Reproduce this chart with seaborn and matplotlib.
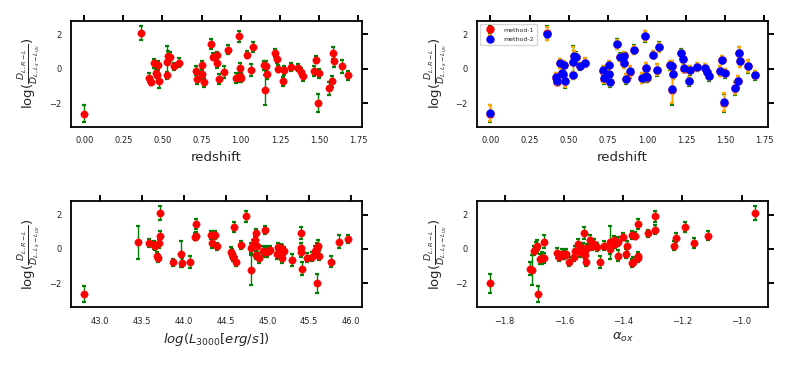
import numpy as np
import matplotlib
matplotlib.use("Agg")
import matplotlib.pyplot as plt
import seaborn as sns

# redshift panel (method-1 and method-2)
redshift = [0.00, 0.36, 0.417, 0.425, 0.445, 0.46, 0.466, 0.472, 0.476, 0.527,
            0.527, 0.536, 0.549, 0.574, 0.604, 0.717, 0.723, 0.755, 0.755, 0.766,
            0.81, 0.825, 0.85, 0.85, 0.864, 0.893, 0.92, 0.967, 0.99, 0.995,
            0.995, 1.0, 1.037, 1.067, 1.076, 1.148, 1.16, 1.157, 1.165, 1.22,
            1.231, 1.237, 1.267, 1.276, 1.318, 1.369, 1.386, 1.395, 1.465, 1.482,
            1.497, 1.495, 1.565, 1.582, 1.59, 1.594, 1.645, 1.688]
ratio_m1 = [-2.62, 2.09, -0.53, -0.76, 0.31, -0.27, -0.35, 0.19, -0.72, 0.41,
            -0.40, 0.74, 0.69, 0.14, 0.35, -0.12, -0.60, 0.19, -0.32, -0.80,
            1.42, 0.69, 0.78, 0.33, -0.60, -0.18, 1.10, -0.55, 1.89, 0.02,
            -0.45, -0.52, 0.82, -0.08, 1.27, 0.19, 0.14, -1.22, -0.33, 0.90,
            0.57, 0.00, -0.74, -0.10, 0.08, 0.04, -0.19, -0.45, -0.14, 0.53,
            -0.27, -2.00, -1.15, -0.74, 0.92, 0.42, 0.15, -0.39]
err_m1 = [0.48, 0.40, 0.25, 0.22, 0.25, 0.22, 0.20, 0.28, 0.40, 0.90,
          0.20, 0.30, 0.25, 0.20, 0.25, 0.25, 0.30, 0.28, 0.30, 0.25,
          0.28, 0.20, 0.20, 0.30, 0.30, 0.35, 0.25, 0.30, 0.32, 0.30,
          0.30, 0.25, 0.22, 0.35, 0.28, 0.25, 0.30, 0.87, 0.30, 0.22,
          0.25, 0.20, 0.25, 0.25, 0.22, 0.20, 0.25, 0.25, 0.30, 0.22,
          0.25, 0.55, 0.40, 0.30, 0.35, 0.35, 0.38, 0.25]
ratio_m2 = [-2.58, 2.03, -0.50, -0.74, 0.30, -0.26, -0.33, 0.20, -0.70, 0.40,
            -0.40, 0.72, 0.68, 0.15, 0.35, -0.10, -0.56, 0.20, -0.30, -0.78,
            1.42, 0.66, 0.76, 0.33, -0.58, -0.16, 1.10, -0.53, 1.89, 0.04,
            -0.43, -0.48, 0.82, -0.06, 1.25, 0.20, 0.14, -1.20, -0.31, 0.90,
            0.57, 0.01, -0.72, -0.09, 0.10, 0.05, -0.17, -0.43, -0.13, 0.53,
            -0.25, -1.95, -1.12, -0.72, 0.92, 0.43, 0.17, -0.38]
err_m2 = [0.45, 0.38, 0.24, 0.21, 0.24, 0.21, 0.19, 0.26, 0.38, 0.85,
          0.19, 0.28, 0.24, 0.19, 0.24, 0.24, 0.28, 0.26, 0.28, 0.24,
          0.26, 0.19, 0.19, 0.28, 0.28, 0.33, 0.24, 0.28, 0.30, 0.28,
          0.28, 0.24, 0.21, 0.33, 0.26, 0.24, 0.28, 0.82, 0.28, 0.21,
          0.24, 0.19, 0.24, 0.24, 0.21, 0.19, 0.24, 0.24, 0.28, 0.21,
          0.24, 0.52, 0.38, 0.28, 0.33, 0.33, 0.36, 0.24]

# luminosity panel
log_l3000 = [42.81, 43.45, 43.59, 43.64, 43.66, 43.70, 43.68, 43.69, 43.72, 43.72,
             43.87, 43.97, 43.98, 44.07, 44.13, 44.15, 44.15, 44.33, 44.36, 44.38,
             44.34, 44.40, 44.56, 44.58, 44.59, 44.62, 44.60, 44.69, 44.75, 44.81,
             44.81, 44.83, 44.85, 44.87, 44.88, 44.87, 44.90, 44.97, 44.95, 44.97,
             45.00, 45.03, 45.11, 45.13, 45.16, 45.18, 45.20, 45.18, 45.30, 45.40,
             45.40, 45.40, 45.41, 45.47, 45.54, 45.57, 45.59, 45.61, 45.62, 45.59,
             45.76, 45.86, 45.97]
ratio_l = [-2.63, 0.39, 0.33, 0.23, 0.15, 0.33, -0.41, -0.52, 2.09, 0.78,
           -0.78, -0.31, -0.80, -0.74, 0.72, 0.74, 1.44, 0.80, 0.82, 0.80,
           0.33, 0.14, -0.20, -0.31, -0.45, -0.74, 1.29, 0.22, 1.89, -1.23,
           0.04, 0.23, 0.53, 0.92, 0.14, -0.35, -0.55, 1.11, -0.12, -0.20,
           -0.16, -0.06, -0.31, 0.12, 0.08, 0.00, -0.12, -0.55, -0.62, 0.92,
           0.04, -0.20, -1.15, -0.51, -0.45, -0.12, 0.04, 0.14, -0.39, -2.00,
           -0.74, 0.43, 0.58]
err_l = [0.48, 0.95, 0.22, 0.25, 0.20, 0.25, 0.25, 0.25, 0.40, 0.28,
         0.22, 0.75, 0.25, 0.35, 0.22, 0.22, 0.28, 0.22, 0.22, 0.25,
         0.30, 0.20, 0.30, 0.30, 0.25, 0.28, 0.28, 0.25, 0.30, 0.87,
         0.30, 0.30, 0.25, 0.25, 0.30, 0.25, 0.30, 0.25, 0.30, 0.28,
         0.30, 0.25, 0.28, 0.22, 0.22, 0.25, 0.25, 0.30, 0.35, 0.35,
         0.28, 0.30, 0.40, 0.28, 0.28, 0.30, 0.30, 0.38, 0.25, 0.55,
         0.30, 0.38, 0.25]

# alpha_ox panel
alpha_ox = [-1.848, -1.716, -1.708, -1.688, -1.700, -1.694, -1.690, -1.680, -1.673, -1.668,
            -1.666, -1.623, -1.617, -1.608, -1.599, -1.594, -1.584, -1.567, -1.563, -1.551,
            -1.547, -1.542, -1.533, -1.535, -1.531, -1.529, -1.527, -1.522, -1.511, -1.506,
            -1.500, -1.490, -1.477, -1.464, -1.446, -1.443, -1.428, -1.419, -1.430, -1.416,
            -1.400, -1.387, -1.389, -1.371, -1.367, -1.351, -1.349, -1.369, -1.360, -1.350,
            -1.317, -1.293, -1.293, -1.227, -1.220, -1.191, -1.161, -1.112, -0.956]
ratio_a = [-2.00, -1.15, -1.23, -2.63, -0.10, 0.08, 0.14, -0.58, -0.55, -0.51,
           0.43, -0.25, -0.45, -0.31, -0.35, -0.27, -0.74, -0.45, -0.12, 0.27,
           -0.16, -0.04, 0.92, 0.04, -0.20, -0.35, -0.74, 0.04, 0.54, 0.14,
           0.27, 0.12, -0.74, 0.19, 0.39, 0.00, 0.31, 0.43, 0.53, -0.39,
           0.72, 0.14, -0.27, -0.82, -0.74, -0.51, -0.41, 0.82, 0.78, 1.44,
           0.90, 1.89, 1.13, 0.19, 0.66, 1.29, 0.35, 0.78, 2.09]
err_a = [0.55, 0.40, 0.87, 0.48, 0.28, 0.30, 0.38, 0.30, 0.35, 0.30,
         0.38, 0.30, 0.25, 0.28, 0.25, 0.25, 0.25, 0.28, 0.30, 0.30,
         0.30, 0.25, 0.35, 0.30, 0.30, 0.25, 0.25, 0.22, 0.28, 0.22,
         0.30, 0.22, 0.35, 0.25, 0.95, 0.30, 0.25, 0.25, 0.25, 0.30,
         0.22, 0.30, 0.25, 0.25, 0.28, 0.25, 0.25, 0.22, 0.22, 0.28,
         0.22, 0.30, 0.25, 0.25, 0.25, 0.28, 0.30, 0.25, 0.40]

YLABEL = r'$\log(\frac{D_{L,R-L}}{D_{L,L_x-L_{uv}}})$'

sns.set_style("ticks")
plt.rcParams['font.family'] = ['DejaVu Sans']
plt.rcParams['mathtext.fontset'] = 'dejavusans'
plt.rcParams.update({
    'xtick.top': True, 'xtick.bottom': False,
    'ytick.right': True, 'ytick.left': False,
    'xtick.major.size': 4, 'ytick.major.size': 4,
    'xtick.major.width': 1.4, 'ytick.major.width': 1.4,
    'xtick.direction': 'out', 'ytick.direction': 'out',
})


def draw_points(ax, x, y, err, color, ecolor):
    """error bars from matplotlib, the dots through seaborn"""
    ax.errorbar(x, y, yerr=err, fmt='none', ecolor=ecolor, elinewidth=1.0,
                capsize=1.6, capthick=1.6, zorder=2)
    sns.scatterplot(x=x, y=y, ax=ax, color=color, s=28, edgecolor=color,
                    linewidth=0.3, zorder=3, legend=False)


def style_axes(ax, xlabel):
    ax.set_xlabel(xlabel, fontsize=9.5)
    ax.set_ylabel(YLABEL, fontsize=9.5)
    for sp in ax.spines.values():
        sp.set_visible(True)
        sp.set_linewidth(1.3)
        sp.set_color('black')
    ax.set_yticks([-2, 0, 2])
    ax.tick_params(axis='both', which='major', labelsize=6,
                   labelcolor='#222222', color='black',
                   bottom=False, left=False, top=True, right=True,
                   labelbottom=True, labelleft=True,
                   labeltop=False, labelright=False,
                   direction='out', length=4, width=1.4, pad=3)
    ax.margins(x=0.05, y=0.05)


fig, axes = plt.subplots(2, 2, figsize=(7.9, 3.66), dpi=100)
fig.subplots_adjust(left=0.0899, right=0.972, bottom=0.161, top=0.9426,
                    wspace=0.398, hspace=0.706)

ax = axes[0, 0]
draw_points(ax, redshift, ratio_m1, err_m1, 'red', 'green')
style_axes(ax, 'redshift')

ax = axes[0, 1]
ax.errorbar(redshift, ratio_m1, yerr=err_m1, fmt='o', color='red', ms=5,
            ecolor='green', elinewidth=1.0, capsize=1.6, capthick=1.6,
            label='method-1', zorder=2)
ax.errorbar(redshift, ratio_m2, yerr=err_m2, fmt='o', color='blue', ms=5,
            ecolor='orange', elinewidth=1.0, capsize=1.6, capthick=1.6,
            label='method-2', zorder=3)
style_axes(ax, 'redshift')
ax.legend(loc='upper left', fontsize=4.5, frameon=True, borderpad=0.5,
          handletextpad=1.2, labelspacing=0.6)

ax = axes[1, 0]
draw_points(ax, log_l3000, ratio_l, err_l, 'red', 'green')
style_axes(ax, r'$log(L_{3000}[erg/s])$')

ax = axes[1, 1]
draw_points(ax, alpha_ox, ratio_a, err_a, 'red', 'green')
style_axes(ax, r'$\alpha_{ox}$')

fig.savefig('out.png', dpi=100)
